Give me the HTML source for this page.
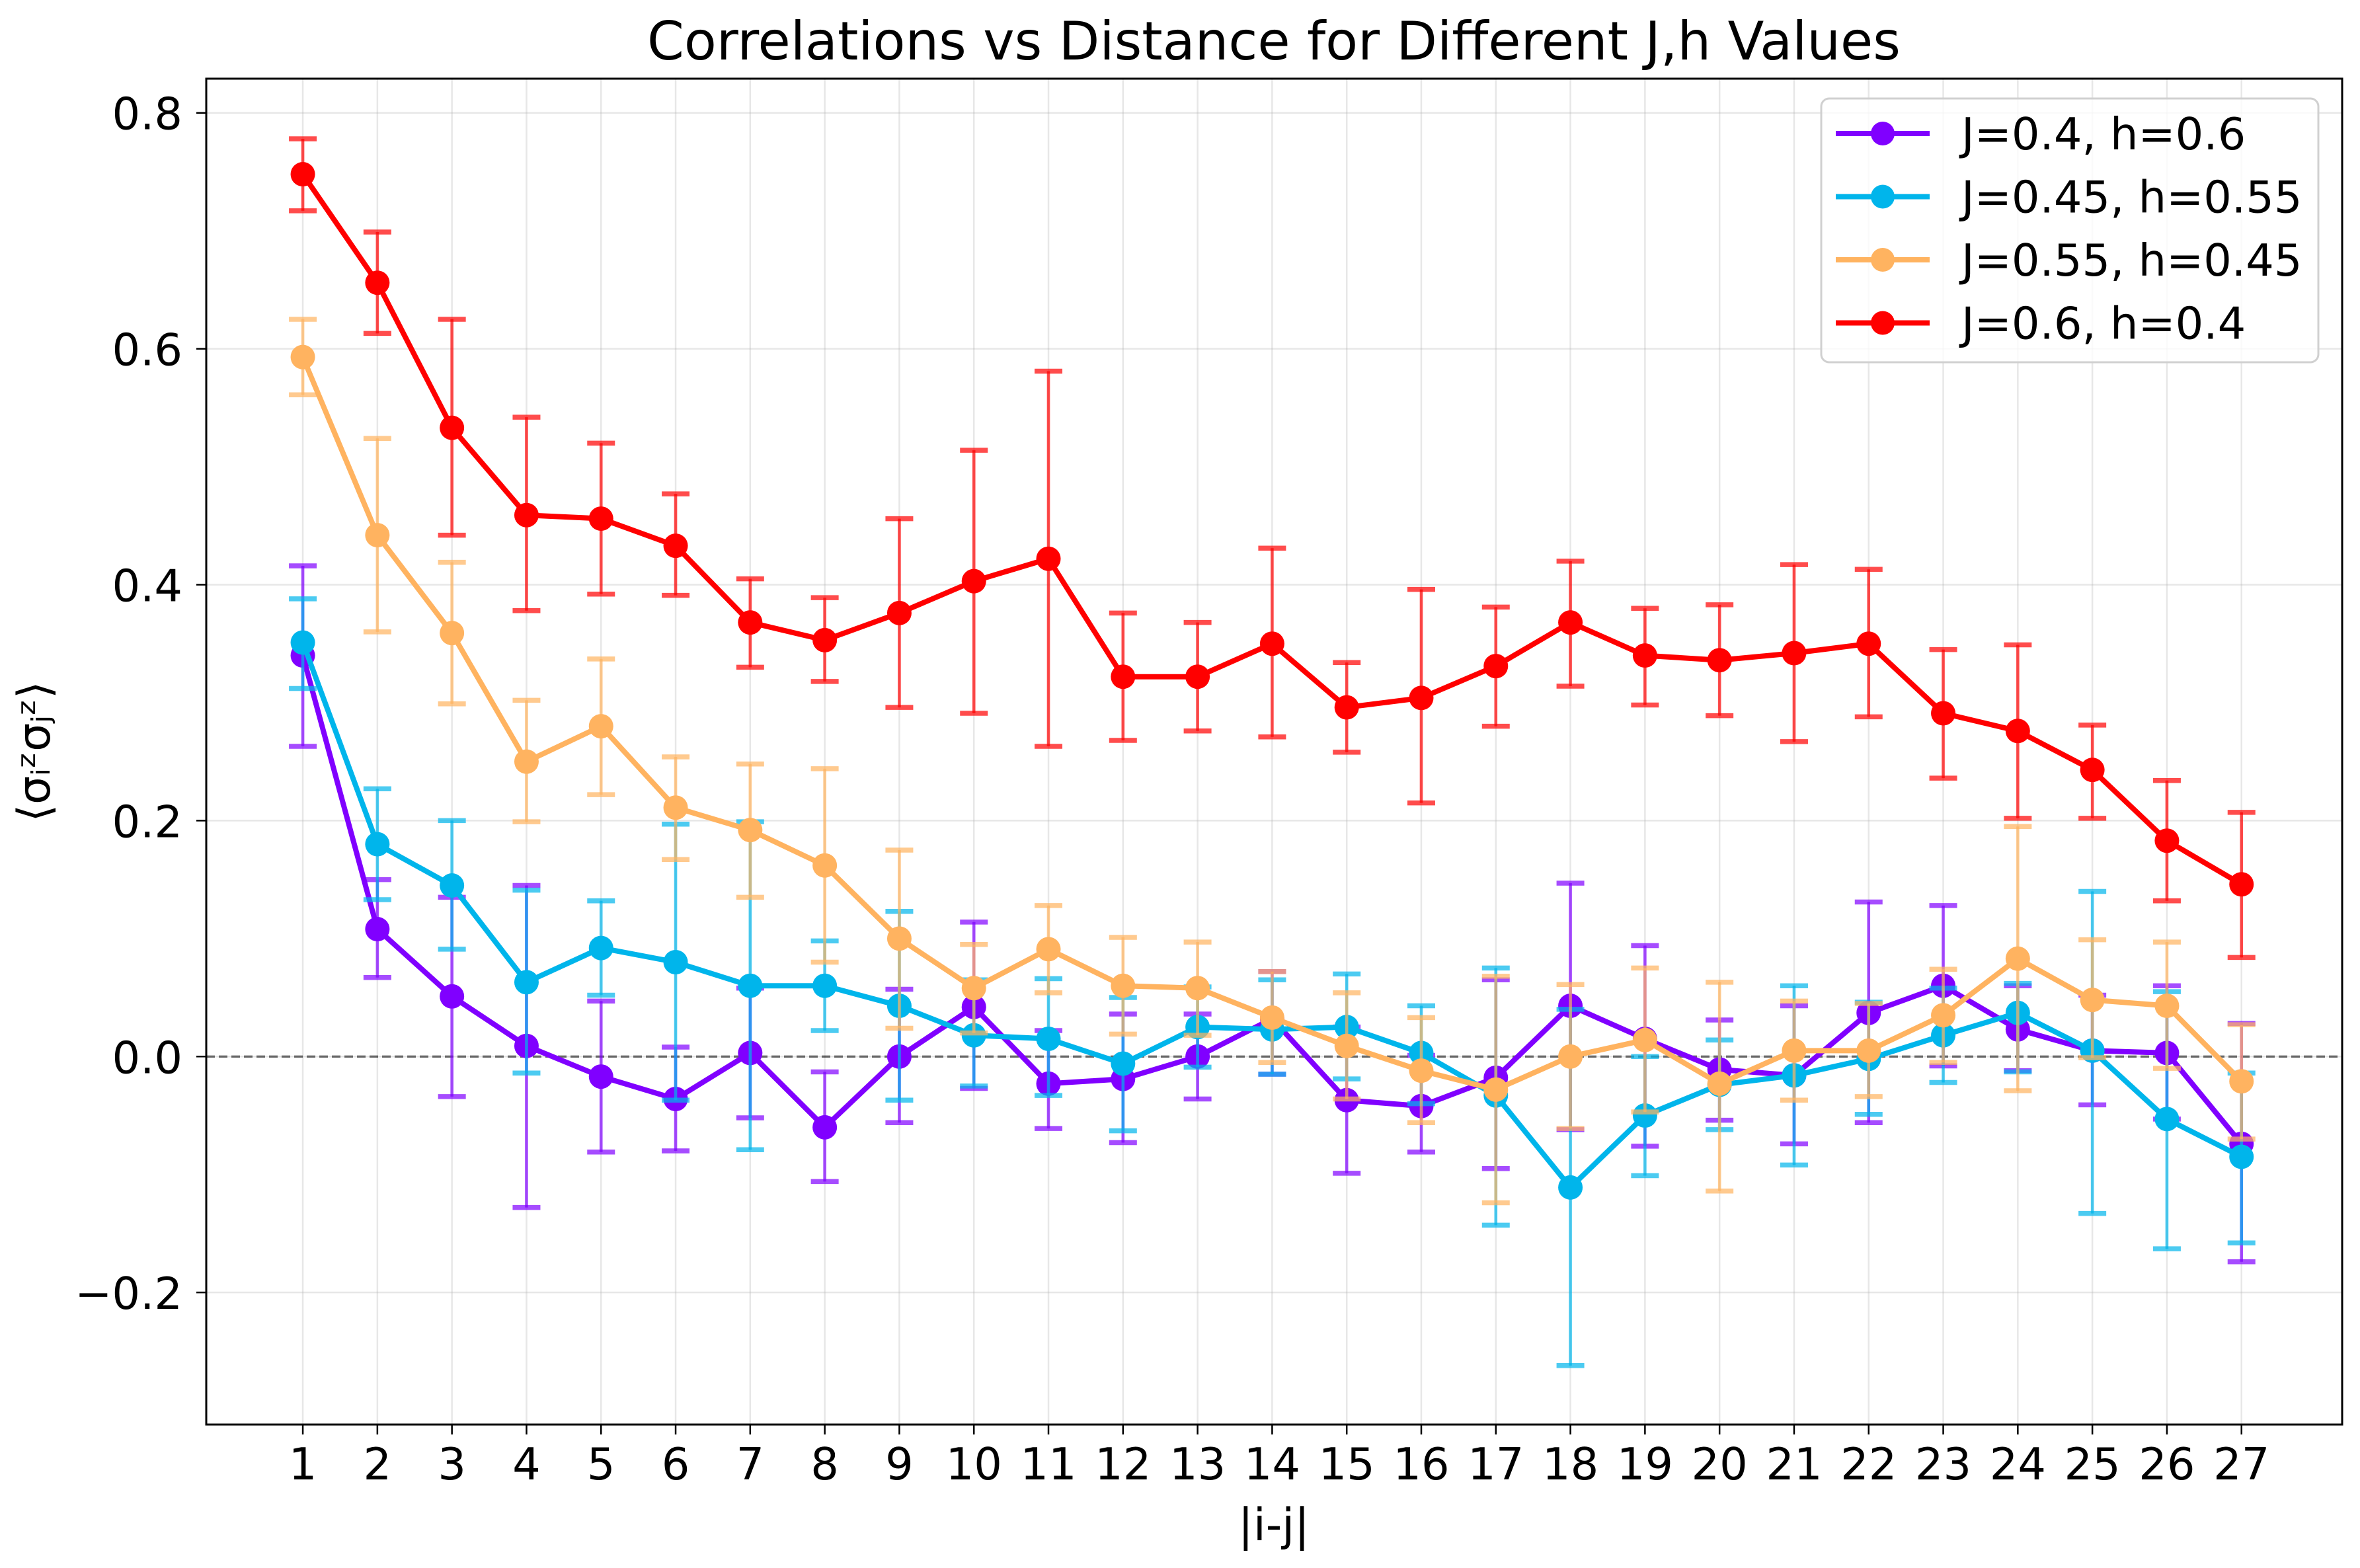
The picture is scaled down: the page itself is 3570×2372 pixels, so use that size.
<!DOCTYPE html>
<html><head><meta charset="utf-8"><style>
html,body{margin:0;padding:0;background:#fff;}
svg{display:block;font-family:"DejaVu Sans","Liberation Sans",sans-serif;}
</style></head><body>
<svg id="chart" width="3570" height="2372" viewBox="0 0 3570 2372" xmlns="http://www.w3.org/2000/svg">
<rect x="0" y="0" width="3570" height="2372" fill="#fff"/>
<text x="1927" y="90" font-size="80" text-anchor="middle">Correlations vs Distance for Different J,h Values</text>
<g id="grid"></g>
<g id="series"></g>
<rect x="312" y="119" width="3231" height="2036" fill="none" stroke="#000" stroke-width="3"/>
<g id="axes"></g>
<text x="1927" y="2330" font-size="68" text-anchor="middle">|i-j|</text>
<text transform="translate(75,1137) rotate(-90)" font-size="68" text-anchor="middle">⟨σᵢᶻσⱼᶻ⟩</text>
<g id="legend"></g>
</svg>
<script>
const distances = [1,2,3,4,5,6,7,8,9,10,11,12,13,14,15,16,17,18,19,20,21,22,23,24,25,26,27];
const yTicks = [-0.2,0,0.2,0.4,0.6,0.8];
const yTickLabels = ["\u22120.2","0.0","0.2","0.4","0.6","0.8"];
const seriesNames = ["J=0.4, h=0.6","J=0.45, h=0.55","J=0.55, h=0.45","J=0.6, h=0.4"];
const purpleVals = [0.340,0.108,0.051,0.009,-0.017,-0.036,0.003,-0.060,0.000,0.042,-0.023,-0.019,0.000,0.032,-0.037,-0.042,-0.018,0.043,0.015,-0.011,-0.016,0.037,0.060,0.023,0.005,0.003,-0.074];
const purpleHi = [0.416,0.150,0.135,0.145,0.047,0.008,0.058,-0.013,0.057,0.114,0.022,0.036,0.036,0.072,0.025,0.001,0.065,0.147,0.094,0.031,0.043,0.131,0.128,0.060,0.052,0.060,0.028];
const purpleLo = [0.263,0.067,-0.034,-0.128,-0.081,-0.080,-0.052,-0.106,-0.056,-0.027,-0.061,-0.073,-0.036,-0.015,-0.099,-0.081,-0.095,-0.062,-0.076,-0.054,-0.074,-0.056,-0.008,-0.012,-0.041,-0.053,-0.174];
const cyanVals = [0.351,0.180,0.145,0.063,0.092,0.080,0.060,0.060,0.043,0.018,0.015,-0.006,0.025,0.023,0.025,0.003,-0.033,-0.111,-0.050,-0.024,-0.016,-0.002,0.018,0.037,0.005,-0.053,-0.085];
const cyanHi = [0.388,0.227,0.200,0.141,0.132,0.197,0.199,0.098,0.123,0.065,0.066,0.050,0.059,0.065,0.070,0.043,0.075,0.040,0.000,0.014,0.060,0.046,0.058,0.062,0.140,0.055,-0.014];
const cyanLo = [0.312,0.133,0.091,-0.014,0.052,-0.037,-0.079,0.022,-0.037,-0.025,-0.033,-0.063,-0.009,-0.015,-0.019,-0.040,-0.143,-0.262,-0.101,-0.062,-0.092,-0.049,-0.022,-0.013,-0.133,-0.163,-0.158];
const orangeVals = [0.593,0.442,0.359,0.250,0.280,0.211,0.192,0.162,0.100,0.058,0.091,0.060,0.058,0.033,0.009,-0.012,-0.028,0.000,0.014,-0.023,0.005,0.005,0.035,0.083,0.048,0.043,-0.021];
const orangeHi = [0.625,0.524,0.419,0.302,0.337,0.254,0.248,0.244,0.175,0.095,0.128,0.101,0.097,0.072,0.054,0.033,0.068,0.061,0.075,0.063,0.047,0.045,0.074,0.195,0.099,0.097,0.027];
const orangeLo = [0.561,0.360,0.299,0.199,0.222,0.167,0.135,0.080,0.024,0.020,0.054,0.019,0.018,-0.005,-0.036,-0.056,-0.124,-0.061,-0.047,-0.114,-0.037,-0.034,-0.005,-0.029,-0.001,-0.010,-0.070];
const redVals = [0.748,0.656,0.533,0.459,0.456,0.433,0.368,0.353,0.376,0.403,0.422,0.322,0.322,0.350,0.296,0.304,0.331,0.368,0.340,0.336,0.342,0.350,0.291,0.276,0.243,0.183,0.146];
const redHi = [0.778,0.699,0.625,0.542,0.520,0.477,0.405,0.389,0.456,0.514,0.581,0.376,0.368,0.431,0.334,0.396,0.381,0.420,0.380,0.383,0.417,0.413,0.345,0.349,0.281,0.234,0.207];
const redLo = [0.717,0.613,0.442,0.378,0.392,0.391,0.330,0.318,0.296,0.291,0.263,0.268,0.276,0.271,0.258,0.215,0.280,0.314,0.298,0.289,0.267,0.288,0.236,0.202,0.202,0.132,0.084];

const NS="http://www.w3.org/2000/svg";
const L=312,R=3543,T=119,B=2155;
const xMin=-0.295,xMax=28.35,yMin=-0.312,yMax=0.829;
const xs=v=>L+(v-xMin)/(xMax-xMin)*(R-L);
const ys=v=>B-(v-yMin)/(yMax-yMin)*(B-T);
function mk(tag,attrs,parent){const e=document.createElementNS(NS,tag);for(const k in attrs)e.setAttribute(k,attrs[k]);parent.appendChild(e);return e;}
const grid=document.getElementById('grid'),axes=document.getElementById('axes'),ser=document.getElementById('series'),leg=document.getElementById('legend');

distances.forEach((d,i)=>{
  const x=xs(d);
  const g=mk('line',{x1:x,x2:x,y1:T,y2:B,stroke:'#b0b0b0','stroke-opacity':0.3,'stroke-width':2.5},grid);
  
  
  const t=mk('line',{x1:x,x2:x,y1:B,y2:B+15,stroke:'#000','stroke-width':2.5},axes);
  
  
  const lb=mk('text',{x:x,y:B+83,'font-size':67,'text-anchor':'middle'},axes);
  lb.textContent=String(d);
  
  
});
yTicks.forEach((v,i)=>{
  const y=ys(v);
  const g=mk('line',{x1:L,x2:R,y1:y,y2:y,stroke:'#b0b0b0','stroke-opacity':0.3,'stroke-width':2.5},grid);
  
  
  const t=mk('line',{x1:L-15,x2:L,y1:y,y2:y,stroke:'#000','stroke-width':2.5},axes);
  
  
  const lb=mk('text',{x:L-36,y:y+25,'font-size':67,'text-anchor':'end'},axes);
  lb.textContent=yTickLabels[i];
  
  
});
const zl=mk('line',{x1:L,x2:R,y1:ys(0),y2:ys(0),stroke:'#000','stroke-opacity':0.55,'stroke-width':3.4,'stroke-dasharray':'13,6'},grid);



const colors=['#8000ff','#00b5eb','#ffb360','#ff0000'];
const allVals=[purpleVals,cyanVals,orangeVals,redVals];
const allHi=[purpleHi,cyanHi,orangeHi,redHi];
const allLo=[purpleLo,cyanLo,orangeLo,redLo];
const keys=['purple','cyan','orange','red'];
allVals.forEach((vals,s)=>{
  const g=mk('g',{},ser);
  
  
  const c=colors[s];
  distances.forEach((d,i)=>{
    const x=xs(d),y1=ys(allHi[s][i]),y2=ys(allLo[s][i]);
    const eb=mk('g',{stroke:c,'stroke-opacity':0.7,fill:'none'},g);
    
    
    mk('path',{d:`M${x},${y1}V${y2}`,'stroke-width':4.6},eb);
    mk('path',{d:`M${x-21},${y1}H${x+21}M${x-21},${y2}H${x+21}`,'stroke-width':7.5},eb);
  });
  const pts=distances.map((d,i)=>xs(d)+','+ys(vals[i])).join(' ');
  const pl=mk('polyline',{points:pts,fill:'none',stroke:c,'stroke-width':8,'stroke-linejoin':'round'},g);
  
  
  distances.forEach((d,i)=>{
    const m=mk('circle',{cx:xs(d),cy:ys(vals[i]),r:18.5,fill:c},g);
    
    
  });
});

const box=mk('rect',{x:2755,y:149,width:752,height:399,rx:12,fill:'#fff','fill-opacity':0.8,stroke:'#d0d0d0','stroke-width':3},leg);


seriesNames.forEach((n,i)=>{
  const y=202+i*95.5;
  const g=mk('g',{},leg);
  
  
  mk('line',{x1:2777,x2:2919,y1:y,y2:y,stroke:colors[i],'stroke-width':8},g);
  mk('circle',{cx:2848,cy:y,r:18,fill:colors[i]},g);
  const t=mk('text',{x:2967,y:y+24,'font-size':67},g);
  t.textContent=n;
});
</script>
</body></html>
